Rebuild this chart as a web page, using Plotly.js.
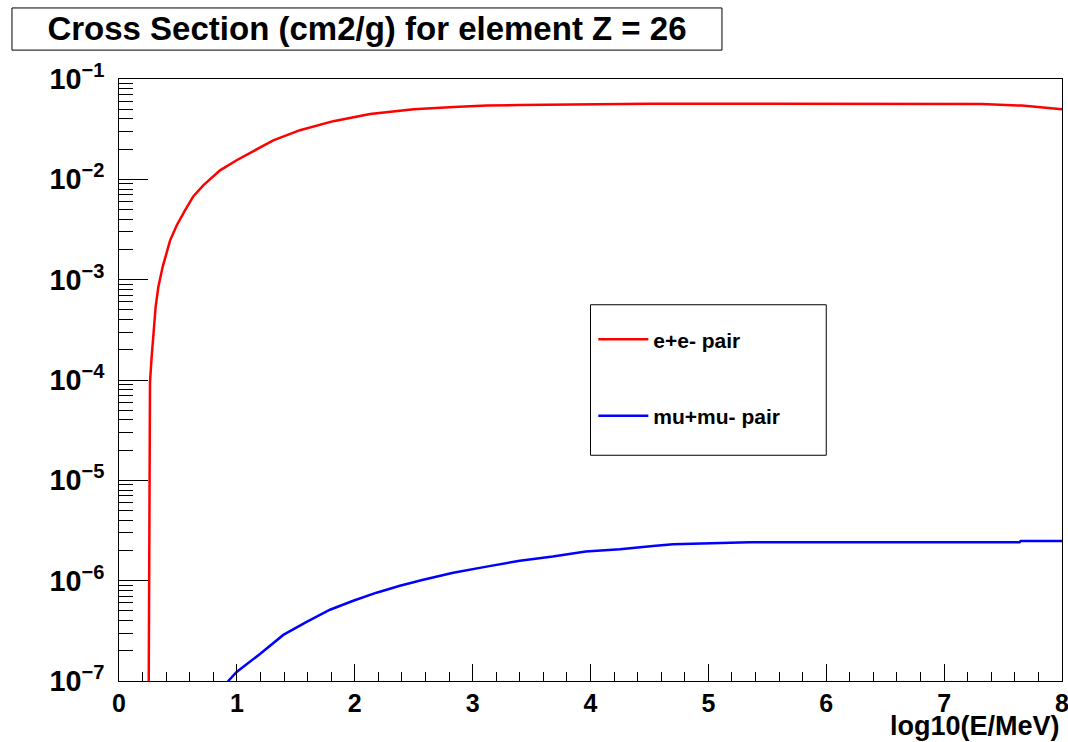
<!DOCTYPE html>
<html>
<head>
<meta charset="utf-8">
<script src="https://cdn.plot.ly/plotly-3.0.1.min.js"></script>
<style>html,body{margin:0;padding:0;background:#fff;}#chart{width:1068px;height:742px;}</style>
</head>
<body>
<div id="chart"></div>
<script>
// e+e- pair production cross section (cm2/g)
const eeX = [0.245, 0.254, 0.263, 0.277, 0.291, 0.311, 0.334, 0.371, 0.433, 0.489, 0.560, 0.630, 0.715, 0.857, 0.998, 1.139, 1.309, 1.535, 1.818, 2.13, 2.50, 2.84, 3.12, 3.40, 3.72, 4.5, 5.5, 6.5, 7.32, 7.66, 7.79, 7.90, 8.0];
const eeY = [1e-9, 2.75e-6, 9.5e-5, 1.7e-4, 2.6e-4, 5.4e-4, 8.5e-4, 1.35e-3, 2.45e-3, 3.47e-3, 4.9e-3, 6.76e-3, 8.7e-3, 1.23e-2, 1.55e-2, 1.9e-2, 2.45e-2, 3.09e-2, 3.8e-2, 4.47e-2, 5.0e-2, 5.25e-2, 5.43e-2, 5.5e-2, 5.56e-2, 5.68e-2, 5.68e-2, 5.68e-2, 5.62e-2, 5.43e-2, 5.25e-2, 5.13e-2, 5.0e-2];

// mu+mu- pair production cross section (cm2/g)
const mmX = [0.90, 0.927, 0.998, 1.196, 1.394, 1.592, 1.790, 1.987, 2.185, 2.383, 2.581, 2.835, 3.118, 3.40, 3.68, 3.96, 4.25, 4.377, 4.53, 4.70, 4.956, 5.35, 7.64, 7.65, 8.0];
const mmY = [9e-8, 1.0e-7, 1.23e-7, 1.86e-7, 2.88e-7, 3.89e-7, 5.13e-7, 6.31e-7, 7.59e-7, 8.91e-7, 1.02e-6, 1.2e-6, 1.38e-6, 1.58e-6, 1.74e-6, 1.95e-6, 2.06e-6, 2.14e-6, 2.22e-6, 2.31e-6, 2.35e-6, 2.42e-6, 2.42e-6, 2.49e-6, 2.49e-6];

const seriesNames = ["e+e- pair", "mu+mu- pair"];
const titleText = "Cross Section (cm2/g) for element Z = 26";
const xTitleText = "log10(E/MeV)";

const FONT = "Liberation Sans, Arial, Helvetica, sans-serif";

const traces = [
  {x: eeX, y: eeY, name: seriesNames[0], type: "scatter", mode: "lines",
   line: {color: "#ff0000", width: 2.5}, legendgroup: "a"},
  {x: mmX, y: mmY, name: seriesNames[1], type: "scatter", mode: "lines",
   line: {color: "#0000ff", width: 2.5}, legendgroup: "b"}
];

const layout = {
  width: 1068, height: 742,
  margin: {l: 119, r: 6, t: 79, b: 61, pad: 0},
  paper_bgcolor: "#fff", plot_bgcolor: "#fff",
  font: {family: FONT, color: "#000", weight: 700},
  title: {text: titleText, x: 0.3436, xanchor: "center", y: 0.961, yanchor: "middle",
          font: {family: FONT, size: 33, weight: 700, color: "#000"}},
  showlegend: true,
  legend: {x: 0.503, xanchor: "left", y: 0.601, yanchor: "top",
           bgcolor: "rgba(0,0,0,0)", borderwidth: 0, itemwidth: 50,
           font: {family: FONT, size: 21, weight: 700, color: "#000"},
           traceorder: "grouped", tracegroupgap: 46},
  xaxis: {
    range: [0, 8], dtick: 1, tick0: 0,
    ticks: "inside", ticklen: 17, tickwidth: 1, tickcolor: "#000",
    minor: {dtick: 0.2, ticks: "inside", ticklen: 9, tickwidth: 1, tickcolor: "#000"},
    showline: true, linecolor: "#000", linewidth: 1, mirror: true,
    showgrid: false, zeroline: false, ticklabeloverflow: "allow",
    tickfont: {family: FONT, size: 25, weight: 700, color: "#000"}
  },
  yaxis: {
    type: "log", range: [-7, -1], dtick: 1,
    exponentformat: "power",
    ticks: "inside", ticklen: 29, tickwidth: 1, tickcolor: "#000",
    minor: {dtick: "D1", ticks: "inside", ticklen: 14, tickwidth: 1, tickcolor: "#000"},
    showline: true, linecolor: "#000", linewidth: 1, mirror: true,
    showgrid: false, zeroline: false,
    ticklabelstandoff: 9,
    tickfont: {family: FONT, size: 23, weight: 700, color: "#000"}
  },
  shapes: [
    {type: "rect", xref: "paper", yref: "paper", x0: -0.1135, x1: 0.6394, y0: 1.048, y1: 1.118,
     line: {color: "#000", width: 1}, fillcolor: "rgba(0,0,0,0)"},
    {type: "rect", xref: "paper", yref: "paper", x0: 0.5, x1: 0.75, y0: 0.375, y1: 0.625,
     line: {color: "#000", width: 1}, fillcolor: "rgba(0,0,0,0)"}
  ],
  annotations: [
    {text: xTitleText, xref: "paper", yref: "paper", x: 1.0, xanchor: "right",
     y: -0.075, yanchor: "middle", showarrow: false,
     font: {family: FONT, size: 27, weight: 700, color: "#000"}}
  ]
};

Plotly.newPlot("chart", traces, layout, {displayModeBar: false, staticPlot: true});
</script>
</body>
</html>
